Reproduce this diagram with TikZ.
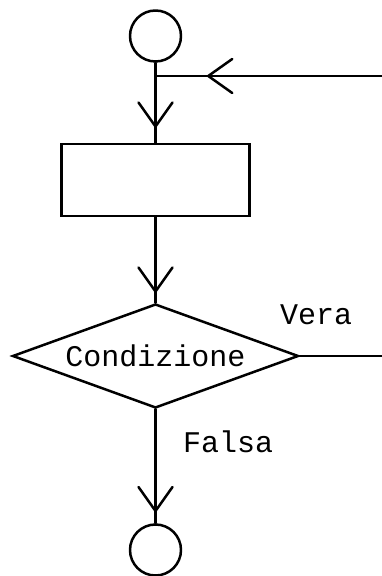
\documentclass[tikz,border=0pt]{standalone}
\usepackage{fontspec}
\setmonofont{Liberation Mono}
\usetikzlibrary{arrows.meta,shapes.geometric}

\tikzset{
  flow/.style={line width=2.5pt, line cap=round, line join=round},
  barb/.style={flow, -{Straight Barb[length=24pt, width=34pt, line cap=round, line join=round]}},
  terminal/.style={circle, draw, flow, minimum size=51pt, inner sep=0pt},
  process/.style={rectangle, draw, flow, line join=miter, minimum width=188pt, minimum height=72pt, inner sep=0pt},
  decision/.style={diamond, aspect=2.75, draw, flow, line join=miter, minimum width=286pt, minimum height=104pt, inner sep=0pt,
                   font=\ttfamily\fontsize{30pt}{30pt}\selectfont},
  lbl/.style={font=\ttfamily\fontsize{30pt}{30pt}\selectfont, inner sep=0pt, anchor=base west}
}

\begin{document}
\begin{tikzpicture}[x=1pt, y=1pt]
  \useasboundingbox (0,0) rectangle (382,576);

  % blocks
  \node[terminal] (start) at (155.5,540) {};
  \coordinate (join) at (155.5,500);
  \coordinate (loop) at (382,500);
  \node[process] (body) at (155.5,396) {};
  \node[decision] (cond) at (155.5,220) {Condizione};
  \coordinate (exitT) at (382,220);
  \node[terminal] (stop) at (155.5,26) {};

  % connectors
  \draw[flow] (start) -- (join);
  \draw[flow] (loop) -- (join);
  \draw[barb, shorten >=51.5pt] (loop) -- (join);
  \draw[flow] (join) -- (body);
  \draw[barb, shorten >=15pt] (join) -- (body);
  \draw[flow] (body) -- (cond);
  \draw[barb, shorten >=10pt] (body) -- (cond);
  \draw[flow] (cond.east) -- (exitT);
  \draw[flow] (cond) -- (stop);
  \draw[barb, shorten >=11pt] (cond) -- (stop);

  % branch labels
  \node[lbl] (vera) at (280,251) {Vera};
  \node[lbl] (falsa) at (183,123) {Falsa};
\end{tikzpicture}
\end{document}
